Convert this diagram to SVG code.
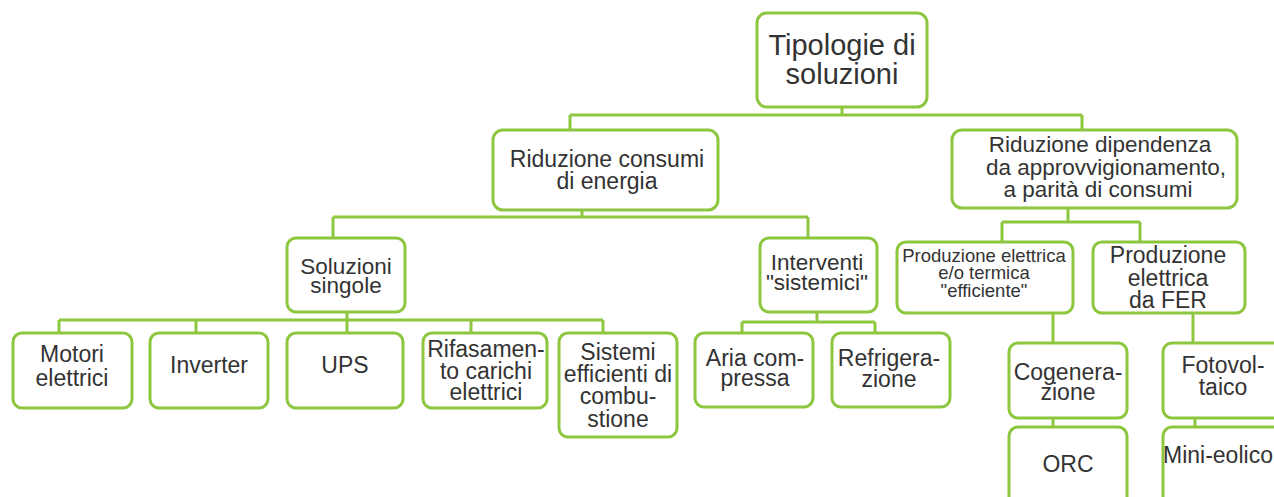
<svg xmlns="http://www.w3.org/2000/svg" width="1274" height="497" viewBox="0 0 1274 497">
<style>
.box{fill:#fff;stroke:#8DC63F;stroke-width:3}
.con{fill:none;stroke:#8DC63F;stroke-width:3}
text{font-family:"Liberation Sans",Arial,sans-serif;fill:#333;text-anchor:middle}
.t1{font-size:29px}
.t2{font-size:22.5px}
.t3{font-size:23px}
.t4{font-size:18.5px}
</style>
<rect width="1274" height="497" fill="#fff"/>
<g id="connectors" class="con">
<path d="M842 107V115M570 115H1082M570 115V130M1082 115V130"/>
<path d="M582 210V217M333 217H808M333 217V238M808 217V238"/>
<path d="M347 312V320M59 320H603M59 320V333M196 320V333M347 320V333M471 320V333M603 320V333"/>
<path d="M817 312V322M742 322H875M742 322V333M875 322V333"/>
<path d="M1068 208V222M1002 222H1140M1002 222V242M1140 222V242"/>
<path d="M1053 313V343M1053 418V427"/>
<path d="M1193 313V343M1195 418V427"/>
</g>
<g id="root"><rect class="box" x="757" y="13" width="170" height="94" rx="10"/>
<text class="t1" x="842" y="55">Tipologie di</text><text class="t1" x="842" y="84">soluzioni</text></g>
<g id="riduzione-consumi"><rect class="box" x="493" y="130" width="225" height="80" rx="10"/>
<text class="t3" x="607" y="167">Riduzione consumi</text><text class="t3" x="607" y="189">di energia</text></g>
<g id="riduzione-dipendenza"><rect class="box" x="952" y="130" width="285" height="78" rx="10"/>
<text class="t2" x="1100" y="152">Riduzione dipendenza</text><text class="t2" x="1106" y="175">da approvvigionamento,</text><text class="t2" x="1098" y="197">a parità di consumi</text></g>
<g id="soluzioni-singole"><rect class="box" x="287" y="238" width="118" height="74" rx="9"/>
<text class="t2" x="346" y="274">Soluzioni</text><text class="t2" x="346" y="293">singole</text></g>
<g id="interventi-sistemici"><rect class="box" x="760" y="238" width="117" height="74" rx="9"/>
<text class="t2" x="817" y="270">Interventi</text><text class="t2" x="817" y="290">"sistemici"</text></g>
<g id="produzione-efficiente"><rect class="box" x="897" y="242" width="176" height="71" rx="9"/>
<text class="t4" x="984" y="262">Produzione elettrica</text><text class="t4" x="984" y="279">e/o termica</text><text class="t4" x="984" y="297">"efficiente"</text></g>
<g id="produzione-fer"><rect class="box" x="1093" y="242" width="152" height="71" rx="9"/>
<text class="t3" x="1168" y="263">Produzione</text><text class="t3" x="1168" y="286">elettrica</text><text class="t3" x="1168" y="308">da FER</text></g>
<g id="motori"><rect class="box" x="13" y="333" width="119" height="75" rx="9"/>
<text class="t3" x="72" y="362">Motori</text><text class="t3" x="72" y="386">elettrici</text></g>
<g id="inverter"><rect class="box" x="150" y="333" width="118" height="75" rx="9"/>
<text class="t3" x="209" y="373">Inverter</text></g>
<g id="ups"><rect class="box" x="287" y="333" width="116" height="75" rx="9"/>
<text class="t3" x="345" y="373">UPS</text></g>
<g id="rifasamento"><rect class="box" x="423" y="333" width="124" height="75" rx="9"/>
<text class="t3" x="486" y="357">Rifasamen-</text><text class="t3" x="486" y="379">to carichi</text><text class="t3" x="486" y="400">elettrici</text></g>
<g id="sistemi-combustione"><rect class="box" x="559" y="333" width="118" height="104" rx="9"/>
<text class="t3" x="618" y="360">Sistemi</text><text class="t3" x="618" y="382">efficienti di</text><text class="t3" x="618" y="404">combu-</text><text class="t3" x="618" y="427">stione</text></g>
<g id="aria-compressa"><rect class="box" x="695" y="333" width="118" height="74" rx="9"/>
<text class="t3" x="755" y="366">Aria com-</text><text class="t3" x="755" y="386">pressa</text></g>
<g id="refrigerazione"><rect class="box" x="832" y="333" width="118" height="74" rx="9"/>
<text class="t3" x="889" y="366">Refrigera-</text><text class="t3" x="889" y="387">zione</text></g>
<g id="cogenerazione"><rect class="box" x="1009" y="343" width="118" height="75" rx="9"/>
<text class="t3" x="1068" y="380">Cogenera-</text><text class="t3" x="1068" y="400">zione</text></g>
<g id="orc"><rect class="box" x="1009" y="427" width="118" height="85" rx="9"/>
<text class="t3" x="1068" y="472">ORC</text></g>
<g id="fotovoltaico"><rect class="box" x="1163" y="343" width="120" height="75" rx="9"/>
<text class="t3" x="1223" y="373">Fotovol-</text><text class="t3" x="1223" y="395">taico</text></g>
<g id="mini-eolico"><rect class="box" x="1163" y="427" width="120" height="85" rx="9"/>
<text class="t3" x="1163" y="463" style="text-anchor:start">Mini-eolico</text></g>
</svg>
